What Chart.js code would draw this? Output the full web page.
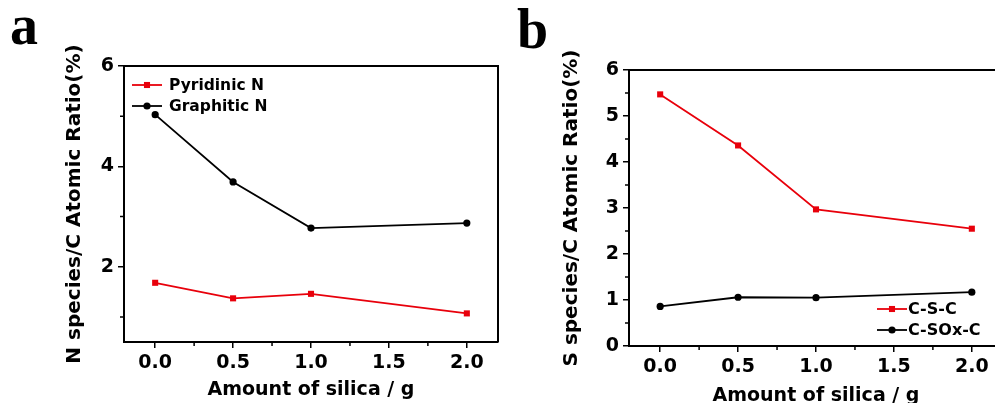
<!DOCTYPE html>
<html>
<head>
<meta charset="utf-8">
<script src="https://cdn.jsdelivr.net/npm/chart.js@4.4.0/dist/chart.umd.min.js"></script>
<style>
html, body { margin: 0; padding: 0; background: #fff; overflow: hidden; width: 995px; height: 403px; }
.panel { position: absolute; top: 0; height: 403px; }
#wrapA { left: 0; width: 505px; }
#wrapB { left: 505px; width: 510px; }
.tag { position: absolute; font-family: 'Liberation Serif', serif; font-weight: bold; font-size: 56px; line-height: 1; }
</style>
</head>
<body>
<div class="tag" style="left:10px;top:-3px">a</div>
<div class="tag" style="left:517px;top:1px">b</div>
<div class="panel" id="wrapA"><canvas id="chartA" width="505" height="403"></canvas></div>
<div class="panel" id="wrapB"><canvas id="chartB" width="510" height="403"></canvas></div>
<script>
// Data
const silica = [0, 0.5, 1.0, 2.0];
const pyridinicN = [1.68, 1.37, 1.46, 1.07];
const graphiticN = [5.03, 3.69, 2.77, 2.87];
const cSC = [5.47, 4.36, 2.97, 2.55];
const cSOxC = [0.86, 1.06, 1.05, 1.17];

const xTicks = [0, 0.5, 1.0, 1.5, 2.0];
const xMinor = [0.25, 0.75, 1.25, 1.75];
const yTicksA = [2, 4, 6];
const yMinorA = [1, 3, 5];
const yTicksB = [0, 1, 2, 3, 4, 5, 6];
const yMinorB = [0.5, 1.5, 2.5, 3.5, 4.5, 5.5];

const RED = '#e8000b';
const BLACK = '#000000';

Chart.defaults.font.family = "'DejaVu Sans', sans-serif";
Chart.defaults.font.weight = 'bold';
Chart.defaults.color = '#000';

const toPoints = ys => silica.map((x, i) => ({ x: x, y: ys[i] }));

// Draws the box frame, minor ticks and the in-plot legend
const extrasPlugin = {
    id: 'extras',
    afterDraw(chart, args, opts) {
        const ctx = chart.ctx;
        const a = chart.chartArea;
        const xs = chart.scales.x, ys = chart.scales.y;
        ctx.save();
        ctx.strokeStyle = '#000';
        ctx.lineWidth = 2;
        ctx.beginPath();
        ctx.moveTo(a.left, a.top);
        ctx.lineTo(a.right, a.top);
        ctx.lineTo(a.right, a.bottom);
        ctx.stroke();

        // minor ticks, pointing out
        ctx.lineWidth = 1.5;
        ctx.beginPath();
        opts.xMinor.forEach(v => {
            const px = xs.getPixelForValue(v);
            ctx.moveTo(px, a.bottom);
            ctx.lineTo(px, a.bottom + 4);
        });
        opts.yMinor.forEach(v => {
            const py = ys.getPixelForValue(v);
            ctx.moveTo(a.left, py);
            ctx.lineTo(a.left - 4, py);
        });
        ctx.stroke();

        // legend
        const lg = opts.legend;
        ctx.font = 'bold ' + lg.size + "px 'DejaVu Sans'";
        ctx.textBaseline = 'middle';
        ctx.textAlign = 'left';
        chart.data.datasets.forEach((ds, i) => {
            const y = lg.y + i * lg.dy;
            ctx.strokeStyle = ds.borderColor;
            ctx.lineWidth = ds.borderWidth;
            ctx.beginPath();
            ctx.moveTo(lg.x, y);
            ctx.lineTo(lg.x + lg.len, y);
            ctx.stroke();
            ctx.fillStyle = ds.pointBackgroundColor;
            Chart.helpers.drawPoint(ctx, { pointStyle: ds.pointStyle, radius: ds.pointRadius, rotation: 0, borderWidth: 0 }, lg.x + lg.len / 2, y);
            ctx.fillStyle = '#000';
            ctx.fillText(ds.label, lg.x + lg.len + lg.gap, y + 1);
        });
        ctx.restore();
    }
};

function makeChart(id, cfg) {
    return new Chart(document.getElementById(id).getContext('2d'), {
        type: 'line',
        data: {
            datasets: cfg.series.map(s => ({
                label: s.label,
                data: toPoints(s.values),
                borderColor: s.color,
                backgroundColor: s.color,
                pointBackgroundColor: s.color,
                pointBorderWidth: 0,
                pointStyle: s.marker,
                pointRadius: s.marker === 'rect' ? 4.3 : 3.6,
                borderWidth: 1.8,
                tension: 0
            }))
        },
        options: {
            responsive: false,
            animation: false,
            layout: { padding: { left: 0, right: cfg.padRight, top: cfg.padTop, bottom: 0 } },
            scales: {
                x: {
                    type: 'linear',
                    min: -0.2,
                    max: 2.2,
                    afterBuildTicks: s => { s.ticks = xTicks.map(v => ({ value: v })); },
                    afterFit: s => { s.height = cfg.xHeight; },
                    ticks: { font: { size: 19 }, padding: 4, callback: v => v.toFixed(1) },
                    grid: { drawOnChartArea: false, drawTicks: true, tickLength: 6, color: '#000', lineWidth: 1.5 },
                    border: { display: true, color: '#000', width: 2 },
                    title: { display: true, text: 'Amount of silica / g', font: { size: 19 }, padding: { top: 0, bottom: cfg.xTitlePad } }
                },
                y: {
                    type: 'linear',
                    min: cfg.yMin,
                    max: 6,
                    afterBuildTicks: s => { s.ticks = cfg.yTicks.map(v => ({ value: v })); },
                    afterFit: s => { s.width = 124; },
                    ticks: { font: { size: 19 }, padding: 4 },
                    grid: { drawOnChartArea: false, drawTicks: true, tickLength: 6, color: '#000', lineWidth: 1.5 },
                    border: { display: true, color: '#000', width: 2 },
                    title: { display: true, text: cfg.yTitle, font: { size: 20 }, padding: { top: cfg.yTitlePad, bottom: 0 } }
                }
            },
            plugins: {
                legend: { display: false },
                tooltip: { enabled: false },
                extras: { xMinor: xMinor, yMinor: cfg.yMinor, legend: cfg.legend }
            }
        },
        plugins: [extrasPlugin]
    });
}

makeChart('chartA', {
    series: [
        { label: 'Pyridinic N', values: pyridinicN, color: RED, marker: 'rect' },
        { label: 'Graphitic N', values: graphiticN, color: BLACK, marker: 'circle' }
    ],
    yMin: 0.5,
    yTicks: yTicksA,
    yMinor: yMinorA,
    yTitle: 'N species/C Atomic Ratio(%)',
    padTop: 66,
    padRight: 7,
    xHeight: 61,
    xTitlePad: 2,
    yTitlePad: 63,
    legend: { x: 132, y: 85, dy: 21, len: 30, gap: 7, size: 15.5 }
});

makeChart('chartB', {
    series: [
        { label: 'C-S-C', values: cSC, color: RED, marker: 'rect' },
        { label: 'C-SOx-C', values: cSOxC, color: BLACK, marker: 'circle' }
    ],
    yMin: 0,
    yTicks: yTicksB,
    yMinor: yMinorB,
    yTitle: 'S species/C Atomic Ratio(%)',
    padTop: 70,
    padRight: 12,
    xHeight: 57,
    xTitlePad: -4,
    yTitlePad: 55,
    legend: { x: 372, y: 309, dy: 21, len: 30, gap: 1, size: 16 }
});
</script>
</body>
</html>
